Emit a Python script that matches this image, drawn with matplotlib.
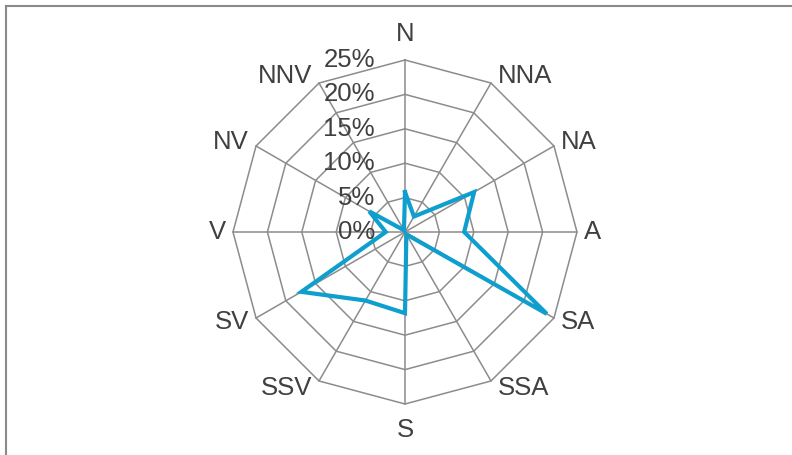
import numpy as np
import matplotlib.pyplot as plt

directions = ["N", "NNA", "NA", "A", "SA", "SSA", "S", "SSV", "SV", "V", "NV", "NNV"]
values = [5.8, 2.6, 11.6, 8.6, 23.8, 0.4, 11.8, 11.5, 17.4, 2.8, 6.0, 0.3]
ring_levels = [5, 10, 15, 20, 25]
tick_levels = [0, 5, 10, 15, 20, 25]
tick_labels = ["0%", "5%", "10%", "15%", "20%", "25%"]

W, H = 792, 455
cx, cy = 405, 232          # centre of the radar in pixels
s = 25 / 172               # data units per pixel

fig = plt.figure(figsize=(W / 100, H / 100), dpi=100)
ax = fig.add_axes([0, 0, 1, 1])
ax.set_xlim(-cx * s, (W - cx) * s)
ax.set_ylim(-(H - cy) * s, cy * s)
ax.axis("off")

# frame of the chart area (only top and left edges visible)
fig.add_artist(plt.Line2D([6 / W, 6 / W], [0, 1 - 6 / H], color="#8a8a8a", lw=1.5))
fig.add_artist(plt.Line2D([6 / W, 1], [1 - 6 / H, 1 - 6 / H], color="#8a8a8a", lw=1.5))

n = len(directions)
theta = np.arange(n) * 2 * np.pi / n
sx, sy = np.sin(theta), np.cos(theta)

grid_col = "#8c8c8c"
for r in ring_levels:
    ax.plot(np.append(r * sx, r * sx[0]), np.append(r * sy, r * sy[0]),
            color=grid_col, lw=1.1, zorder=1)
for i in range(n):
    ax.plot([0, 25 * sx[i]], [0, 25 * sy[i]], color=grid_col, lw=1.1, zorder=1)

v = np.array(values)
ax.plot(np.append(v * sx, v[0] * sx[0]), np.append(v * sy, v[0] * sy[0]),
        color="#0e9fcf", lw=3, zorder=3, solid_joinstyle="miter")

txt_col = "#404040"
fs = 18.5
for i, d in enumerate(directions):
    if abs(sx[i]) < 1e-6:
        off, ha = (0, 26 * np.sign(sy[i])), "center"
    else:
        off = (7 * np.sign(sx[i]), 8 * sy[i])
        ha = "left" if sx[i] > 0 else "right"
    ax.annotate(d, (25 * sx[i], 25 * sy[i]), xytext=off, textcoords="offset pixels",
                ha=ha, va="center", fontsize=fs, color=txt_col, family="Liberation Sans")

for lv, lb in zip(tick_levels, tick_labels):
    ax.text(-30 * s, lv, lb, ha="right", va="center", fontsize=fs,
            color=txt_col, family="Liberation Sans", zorder=2)

fig.savefig("out.png", dpi=100)
